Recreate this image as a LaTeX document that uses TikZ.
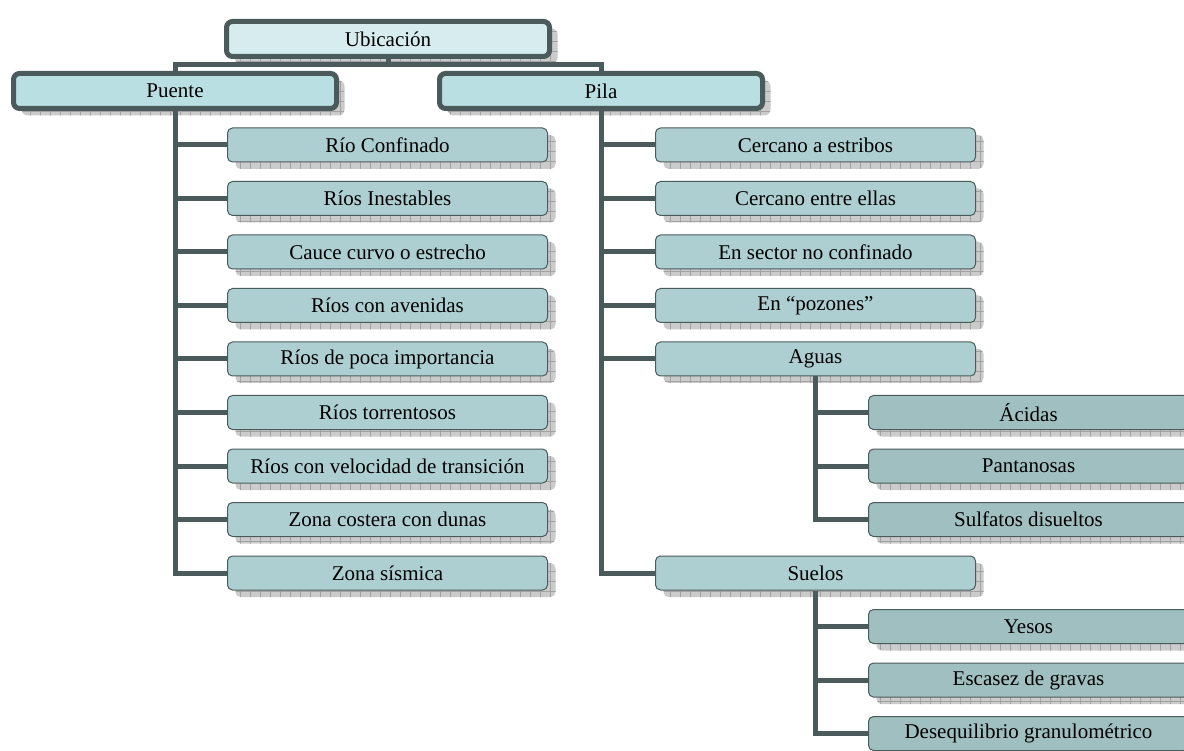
\documentclass[tikz,border=0pt]{standalone}
\usepackage{fontspec}
\setmainfont{Liberation Serif}
\usetikzlibrary{shadows,patterns.meta}
\definecolor{edge}{HTML}{4B5B5B}
\definecolor{topfill}{HTML}{D6ECEF}
\definecolor{midfill}{HTML}{B9DFE2}
\definecolor{leaffill}{HTML}{ADCFD2}
\definecolor{subfill}{HTML}{9FBFC1}
\definecolor{shfill}{HTML}{CBCBCB}
\definecolor{shgrid}{HTML}{A2A2A2}

\tikzset{
  boxshadow/.style={
    general shadow={fill=shfill, shadow xshift=8pt, shadow yshift=-7pt},
    general shadow={pattern={Hatch[distance=10pt,angle=0,line width=0.5pt]},
                    pattern color=shgrid, shadow xshift=8pt, shadow yshift=-7pt}},
  basebox/.style={boxshadow, inner sep=0pt, text=black,
    font=\fontsize{21}{24}\selectfont},
  headbox/.style={basebox, draw=edge, line width=5pt, rounded corners=6pt,
    minimum width=323pt, minimum height=35pt},
  itembox/.style={basebox, draw=edge, line width=1pt, rounded corners=5pt,
    minimum width=320pt, minimum height=34pt, fill=leaffill},
  subbox/.style={itembox, fill=subfill},
  link/.style={draw=edge, line width=5pt, line join=miter, line cap=butt},
}

\begin{document}
\begin{tikzpicture}[x=1pt,y=-1pt]
\useasboundingbox (0,0) rectangle (1184,751);
\clip (0,0) rectangle (1184,751);

% top levels
\node[headbox, fill=topfill] (ubic) at (388,39) {Ubicación};
\node[headbox, fill=midfill] (puente) at (175,91) {Puente};
\node[headbox, fill=midfill] (pila) at (601,91) {Pila};

% Puente branch
\node[itembox] (p1) at (387.5,145)   {Río Confinado};
\node[itembox] (p2) at (387.5,198.5) {Ríos Inestables};
\node[itembox] (p3) at (387.5,252)   {Cauce curvo o estrecho};
\node[itembox] (p4) at (387.5,305.5) {Ríos con avenidas};
\node[itembox] (p5) at (387.5,359)   {Ríos de poca importancia};
\node[itembox] (p6) at (387.5,412.5) {Ríos torrentosos};
\node[itembox] (p7) at (387.5,466)   {Ríos con velocidad de transición};
\node[itembox] (p8) at (387.5,519.5) {Zona costera con dunas};
\node[itembox] (p9) at (387.5,573)   {Zona sísmica};

% Pila branch
\node[itembox] (q1) at (815.5,145)   {Cercano a estribos};
\node[itembox] (q2) at (815.5,198.5) {Cercano entre ellas};
\node[itembox] (q3) at (815.5,252)   {En sector no confinado};
\node[itembox] (q4) at (815.5,305.5) {En “pozones”};
\node[itembox] (aguas) at (815.5,359) {Aguas};
\node[itembox] (suelos) at (815.5,573) {Suelos};

% Aguas branch
\node[subbox] (a1) at (1028.5,412.5) {Ácidas};
\node[subbox] (a2) at (1028.5,466)   {Pantanosas};
\node[subbox] (a3) at (1028.5,519.5) {Sulfatos disueltos};

% Suelos branch
\node[subbox] (s1) at (1028.5,626.5) {Yesos};
\node[subbox] (s2) at (1028.5,680)   {Escasez de gravas};
\node[subbox] (s3) at (1028.5,733.5) {Desequilibrio granulométrico};

% connectors
\coordinate (bar) at (388,65);
\draw[link] (ubic.south) -- (bar);
\draw[link] (puente.north) |- (bar) -| (pila.north);

\draw[link] (puente.south) |- (p9.west);
\foreach \n in {p1,p2,p3,p4,p5,p6,p7,p8}
  \draw[link] (puente.south |- \n.west) -- (\n.west);

\draw[link] (pila.south) |- (suelos.west);
\foreach \n in {q1,q2,q3,q4,aguas}
  \draw[link] (pila.south |- \n.west) -- (\n.west);

\draw[link] (aguas.south) |- (a3.west);
\foreach \n in {a1,a2}
  \draw[link] (aguas.south |- \n.west) -- (\n.west);

\draw[link] (suelos.south) |- (s3.west);
\foreach \n in {s1,s2}
  \draw[link] (suelos.south |- \n.west) -- (\n.west);
\end{tikzpicture}
\end{document}
